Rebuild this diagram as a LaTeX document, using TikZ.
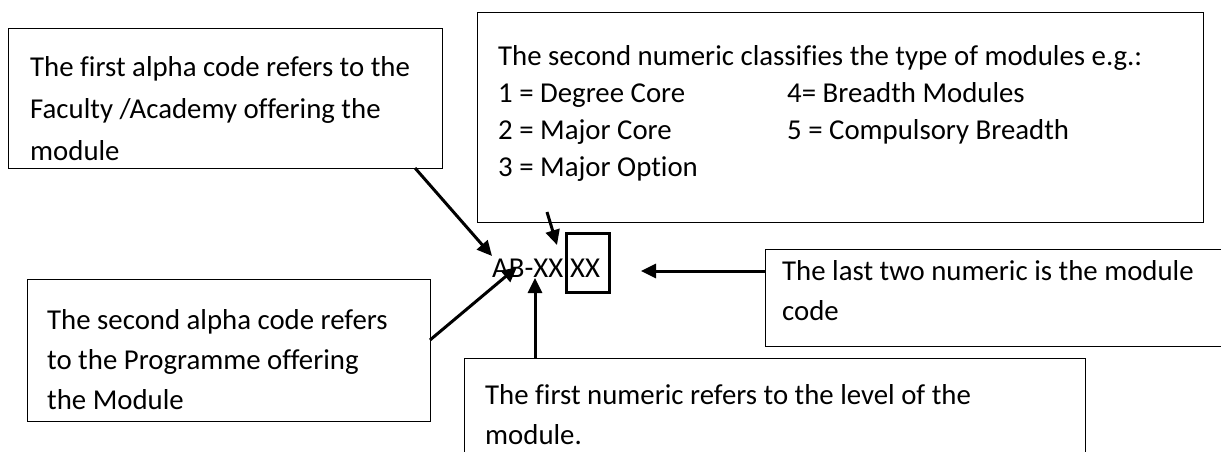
\documentclass[tikz,border=0pt]{standalone}
\usepackage{fontspec}
\setmainfont{Carlito}[Ligatures=NoCommon]
\usetikzlibrary{arrows.meta}
\begin{document}
\begin{tikzpicture}[x=1pt,y=-1pt,
  frame/.style={draw=black, line width=1.4pt, inner sep=0pt, anchor=north west},
  txt/.style={anchor=base west, inner sep=0pt, font=\fontsize{28.8}{34}\selectfont},
  pointer/.style={line width=3pt, -{Triangle[length=15pt,width=14pt]}},
  codeframe/.style={draw=black, line width=3pt, inner sep=0pt, anchor=north west}]
\useasboundingbox (0,0) rectangle (1221,451);
\fill[white] (0,0) rectangle (1221,451);
\clip (0,0) rectangle (1221,451);

% boxes
\node[frame, minimum width=434pt, minimum height=140pt] (boxA) at (8,28) {};
\node[frame, minimum width=726pt, minimum height=210pt] (boxB) at (477,12) {};
\node[frame, minimum width=500pt, minimum height=97pt] (boxC) at (765,249) {};
\node[frame, minimum width=403pt, minimum height=142pt] (boxD) at (27,279) {};
\node[frame, minimum width=621pt, minimum height=130pt] (boxE) at (464,358) {};

% box A text
\node[txt] (a1) at (30,76) {The first alpha code refers to the};
\node[txt] (a2) at (30,118) {Faculty /Academy offering the};
\node[txt] (a3) at (30,160) {module};

% box B text
\node[txt] (b1) at (498,65) {The second numeric classifies the type of modules e.g.:};
\node[txt] (b2) at (498,102) {1 = Degree Core};
\node[txt] (b3) at (498,139) {2 = Major Core};
\node[txt] (b4) at (498,176) {3 = Major Option};
\node[txt] (b5) at (787,102) {4= Breadth Modules};
\node[txt] (b6) at (787,139) {5 = Compulsory Breadth};

% box C text
\node[txt] (c1) at (782,280) {The last two numeric is the module};
\node[txt] (c2) at (782,320) {code};

% box D text
\node[txt] (d1) at (47,329) {The second alpha code refers};
\node[txt] (d2) at (47,369) {to the Programme offering};
\node[txt] (d3) at (47,409) {the Module};

% box E text
\node[txt] (e1) at (485,404) {The first numeric refers to the level of the};
\node[txt] (e2) at (485,444) {module.};

% code
\node[txt] (code) at (492,277) {AB-XX};
\node[txt] (code2) at (570,277) {XX};
\node[codeframe, minimum width=43pt, minimum height=59pt] (xxbox) at (565,232) {};

% arrow ends
\coordinate (s1) at (415,168);
\coordinate (t1) at (492,256);
\coordinate (s2) at (547,212);
\coordinate (t2) at (557,245);
\coordinate (s3) at (430,340);
\coordinate (t3) at (517,267);
\coordinate (s4) at (535,358);
\coordinate (t4) at (535,278);
\coordinate (s5) at (765,271);
\coordinate (t5) at (641,271);

\draw[pointer] (s1) -- (t1);
\draw[pointer] (s2) -- (t2);
\draw[pointer] (s3) -- (t3);
\draw[pointer] (s4) -- (t4);
\draw[pointer] (s5) -- (t5);
\end{tikzpicture}
\end{document}
